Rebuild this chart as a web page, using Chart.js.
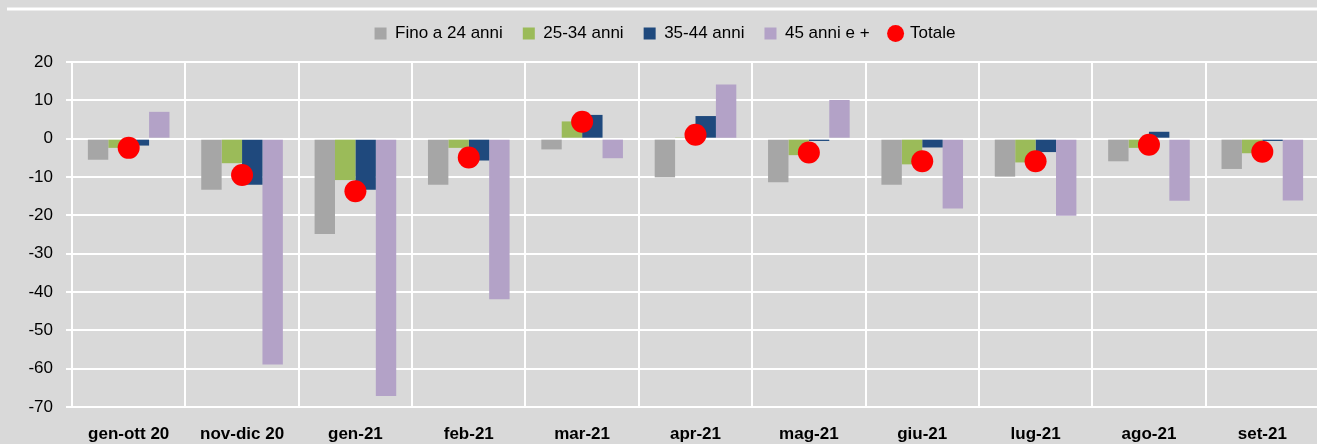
<!DOCTYPE html>
<html>
<head>
    <meta charset="utf-8">
    <title>Variazione per classe di età</title>
    <script src="https://cdn.jsdelivr.net/npm/chart.js"></script>
    <style>
        body {
            margin: 0;
            padding: 0;
            background-color: #d9d9d9;
            overflow: hidden;
            font-family: "Liberation Sans", Arial, sans-serif;
        }

        .chart-box {
            position: relative;
            width: 1330px;
            height: 444px;
        }
    </style>
</head>
<body>
    <div class="chart-box">
        <canvas id="barGraph"></canvas>
    </div>

    <script>
        // categories and series
        const months = ['gen-ott 20', 'nov-dic 20', 'gen-21', 'feb-21', 'mar-21', 'apr-21', 'mag-21', 'giu-21', 'lug-21', 'ago-21', 'set-21'];
        const fino24 = [-5.5, -13.3, -24.9, -12.0, -2.8, -10.1, -11.4, -12.0, -9.9, -5.9, -7.9];
        const da25a34 = [-2.4, -6.4, -10.8, -2.4, 4.5, 0.2, -4.3, -6.7, -6.2, -2.4, -3.8];
        const da35a44 = [-1.8, -12.0, -13.3, -5.7, 6.2, 5.9, -0.6, -2.3, -3.5, 1.8, -0.6];
        const oltre45 = [7.0, -58.9, -67.1, -41.9, -5.1, 14.1, 10.1, -18.2, -20.1, -16.2, -16.1];
        const totale = [-2.4, -9.5, -13.7, -4.9, 4.4, 1.0, -3.6, -5.9, -5.9, -1.6, -3.4];
        const yTicks = { min: -70, max: 20, step: 10 };

        // white line across the top, as in the original frame
        const topLine = {
            id: 'topLine',
            beforeDraw(chart) {
                const ctx = chart.ctx;
                ctx.save();
                ctx.strokeStyle = '#ffffff';
                ctx.lineWidth = 3;
                ctx.beginPath();
                ctx.moveTo(7, 9);
                ctx.lineTo(chart.width, 9);
                ctx.stroke();
                ctx.restore();
            }
        };

        // extra room under the legend
        const legendGap = {
            id: 'legendGap',
            beforeInit(chart) {
                const fit = chart.legend.fit;
                chart.legend.fit = function () {
                    fit.bind(chart.legend)();
                    this.height += 10;
                };
            }
        };

        const barChart = new Chart(document.getElementById('barGraph').getContext('2d'), {
            type: 'bar',
            data: {
                labels: months,
                datasets: [
                    { label: 'Fino a 24 anni', data: fino24, backgroundColor: '#a6a6a6', pointStyle: 'rect', order: 1 },
                    { label: '25-34 anni', data: da25a34, backgroundColor: '#9bbb59', pointStyle: 'rect', order: 1 },
                    { label: '35-44 anni', data: da35a44, backgroundColor: '#1f497d', pointStyle: 'rect', order: 1 },
                    { label: '45 anni e +', data: oltre45, backgroundColor: '#b3a2c7', pointStyle: 'rect', order: 1 },
                    {
                        type: 'line', label: 'Totale', data: totale, showLine: false, order: 0,
                        pointStyle: 'circle', pointRadius: 11, pointHoverRadius: 11,
                        backgroundColor: '#ff0000', borderColor: '#ff0000', borderWidth: 0
                    }
                ]
            },
            options: {
                responsive: true,
                maintainAspectRatio: false,
                animation: false,
                layout: { padding: { top: 5, left: 0, right: 0, bottom: 0 } },
                datasets: {
                    bar: { barPercentage: 1, categoryPercentage: 0.72 }
                },
                scales: {
                    x: {
                        grid: { color: '#ffffff', lineWidth: 2, drawTicks: false },
                        border: { color: '#ffffff', width: 2 },
                        ticks: {
                            color: '#000',
                            padding: 17,
                            maxRotation: 0,
                            font: { family: 'Liberation Sans', size: 17, weight: 'bold' }
                        },
                        afterFit: (axis) => { axis.height = 37; }
                    },
                    y: {
                        min: yTicks.min,
                        max: yTicks.max,
                        grid: { color: '#ffffff', lineWidth: 2, tickLength: 6 },
                        border: { color: '#ffffff', width: 2 },
                        ticks: {
                            stepSize: yTicks.step,
                            color: '#000',
                            padding: 13,
                            font: { family: 'Liberation Sans', size: 17 }
                        },
                        afterFit: (axis) => { axis.width = 72; }
                    }
                },
                plugins: {
                    legend: {
                        position: 'top',
                        labels: {
                            usePointStyle: true,
                            boxWidth: 12,
                            boxHeight: 12,
                            padding: 20,
                            color: '#000',
                            font: { family: 'Liberation Sans', size: 17 },
                            sort: (a, b) => a.datasetIndex - b.datasetIndex
                        }
                    },
                    tooltip: { enabled: false }
                }
            },
            plugins: [topLine, legendGap]
        });
    </script>
</body>
</html>
